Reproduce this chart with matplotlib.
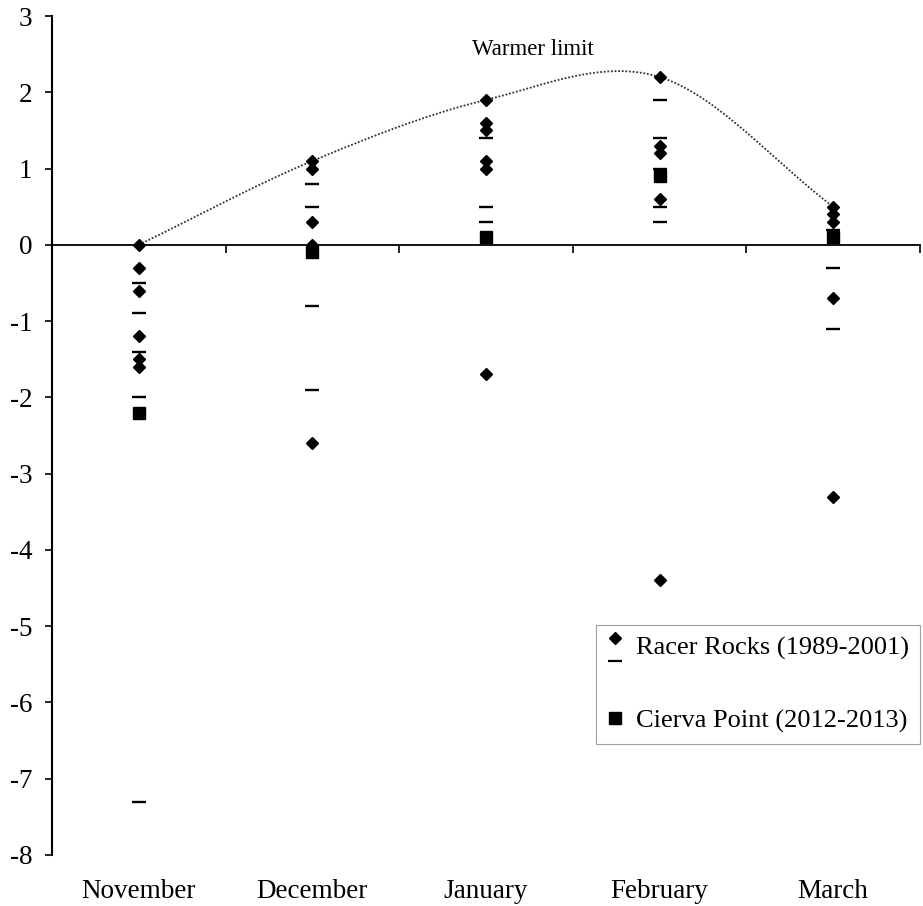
import matplotlib
matplotlib.use("Agg")
import matplotlib.pyplot as plt
import numpy as np
from matplotlib.lines import Line2D
from matplotlib.legend_handler import HandlerBase

plt.rcParams['font.family'] = ['Liberation Serif', 'DejaVu Serif']
plt.rcParams['axes.unicode_minus'] = False

months = ['November', 'December', 'January', 'February', 'March']

# Racer Rocks (1989-2001): diamonds and dashes, per month
racer_diamonds = [
    [0.0, -0.3, -0.6, -1.2, -1.5, -1.6],
    [1.1, 1.0, 0.3, 0.0, -2.6],
    [1.9, 1.6, 1.5, 1.1, 1.0, -1.7],
    [2.2, 1.3, 1.2, 0.6, -4.4],
    [0.5, 0.4, 0.3, -0.7, -3.3],
]
racer_dashes = [
    [-0.5, -0.9, -1.4, -2.0, -7.3],
    [0.8, 0.5, -0.8, -1.9],
    [1.4, 0.5, 0.3],
    [1.9, 1.4, 1.0, 0.5, 0.3],
    [0.2, -0.3, -1.1],
]
# Cierva Point (2012-2013)
cierva = [-2.2, -0.1, 0.1, 0.9, 0.1]
# warmer limit curve nodes
warmer_limit = [0.0, 1.1, 1.9, 2.2, 0.5]


def smooth_line(y, n=60):
    # smoothed line through the nodes (cardinal spline, reflected ends)
    y = np.asarray(y, float)
    p = np.concatenate([[2 * y[0] - y[1]], y, [2 * y[-1] - y[-2]]])
    xs, ys = [], []
    for i in range(len(y) - 1):
        t = np.linspace(0, 1, n)
        m0 = (p[i + 2] - p[i]) / 2
        m1 = (p[i + 3] - p[i + 1]) / 2
        h00 = 2 * t**3 - 3 * t**2 + 1
        h10 = t**3 - 2 * t**2 + t
        h01 = -2 * t**3 + 3 * t**2
        h11 = t**3 - t**2
        xs.append(i + t)
        ys.append(h00 * p[i + 1] + h10 * m0 + h01 * p[i + 2] + h11 * m1)
    return np.concatenate(xs), np.concatenate(ys)


class DiamondDashHandler(HandlerBase):
    def create_artists(self, legend, orig_handle, xdescent, ydescent,
                       width, height, fontsize, trans):
        xc = width / 2 - xdescent
        yc = height / 2 - ydescent
        d = Line2D([xc], [yc + 0.3 * fontsize], marker='D', ms=5.8,
                   color='black', ls='none', transform=trans)
        s = Line2D([xc], [yc - 0.6 * fontsize], marker='_', ms=9.5, mew=1.6,
                   color='black', ls='none', transform=trans)
        return [d, s]


fig = plt.figure(figsize=(9.23, 9.06), dpi=100)
ax = fig.add_axes([52 / 923, 1 - 855 / 906, 868 / 923, 839 / 906])

cx, cy = smooth_line(warmer_limit)
ax.plot(cx, cy, color='#333333', lw=1.3, ls=(0, (1, 1)), zorder=2)

for i in range(len(months)):
    ax.plot([i] * len(racer_diamonds[i]), racer_diamonds[i], ls='none',
            marker='D', ms=5.8, color='black', zorder=3)
    ax.plot([i] * len(racer_dashes[i]), racer_dashes[i], ls='none',
            marker='_', ms=9.5, mew=1.7, color='black', zorder=3)
ax.plot(range(len(months)), cierva, ls='none', marker='s', ms=8,
        color='black', zorder=4)

ax.text(2.27, 2.56, 'Warmer limit', ha='center', va='center', fontsize=16.5)

ax.set_xlim(-0.5, 4.5)
ax.set_ylim(-8, 3)
ax.set_yticks(range(-8, 4))
ax.tick_params(axis='y', direction='out', length=5, width=1.2, pad=9,
               labelsize=19.5)

ax.spines['top'].set_visible(False)
ax.spines['right'].set_visible(False)
ax.spines['left'].set_linewidth(1.5)
ax.spines['bottom'].set_position(('data', 0))
ax.spines['bottom'].set_linewidth(1.3)
ax.set_xticks(np.arange(0.5, 4.6, 1))
ax.set_xticklabels([])
ax.tick_params(axis='x', direction='out', length=6, width=1.2)

sec = ax.secondary_xaxis(0)
sec.spines['bottom'].set_visible(False)
sec.set_xticks(range(len(months)))
sec.set_xticklabels(months)
sec.tick_params(axis='x', length=0, pad=17, labelsize=19.5)

h1 = Line2D([], [], marker='D', color='black', ls='none')
h2 = Line2D([], [], marker='s', ms=8, color='black', ls='none')
leg = ax.legend([h1, h2], ['Racer Rocks (1989-2001)', 'Cierva Point (2012-2013)'],
                handler_map={h1: DiamondDashHandler()},
                loc='upper right', bbox_to_anchor=(1.0, 0.274),
                borderaxespad=0, fontsize=19, frameon=True, fancybox=False,
                labelspacing=1.86, handlelength=0.6, handletextpad=0.5,
                borderpad=0.42)
leg.get_frame().set_edgecolor('#888888')
leg.get_frame().set_linewidth(0.8)

fig.savefig('out.png', dpi=100)
